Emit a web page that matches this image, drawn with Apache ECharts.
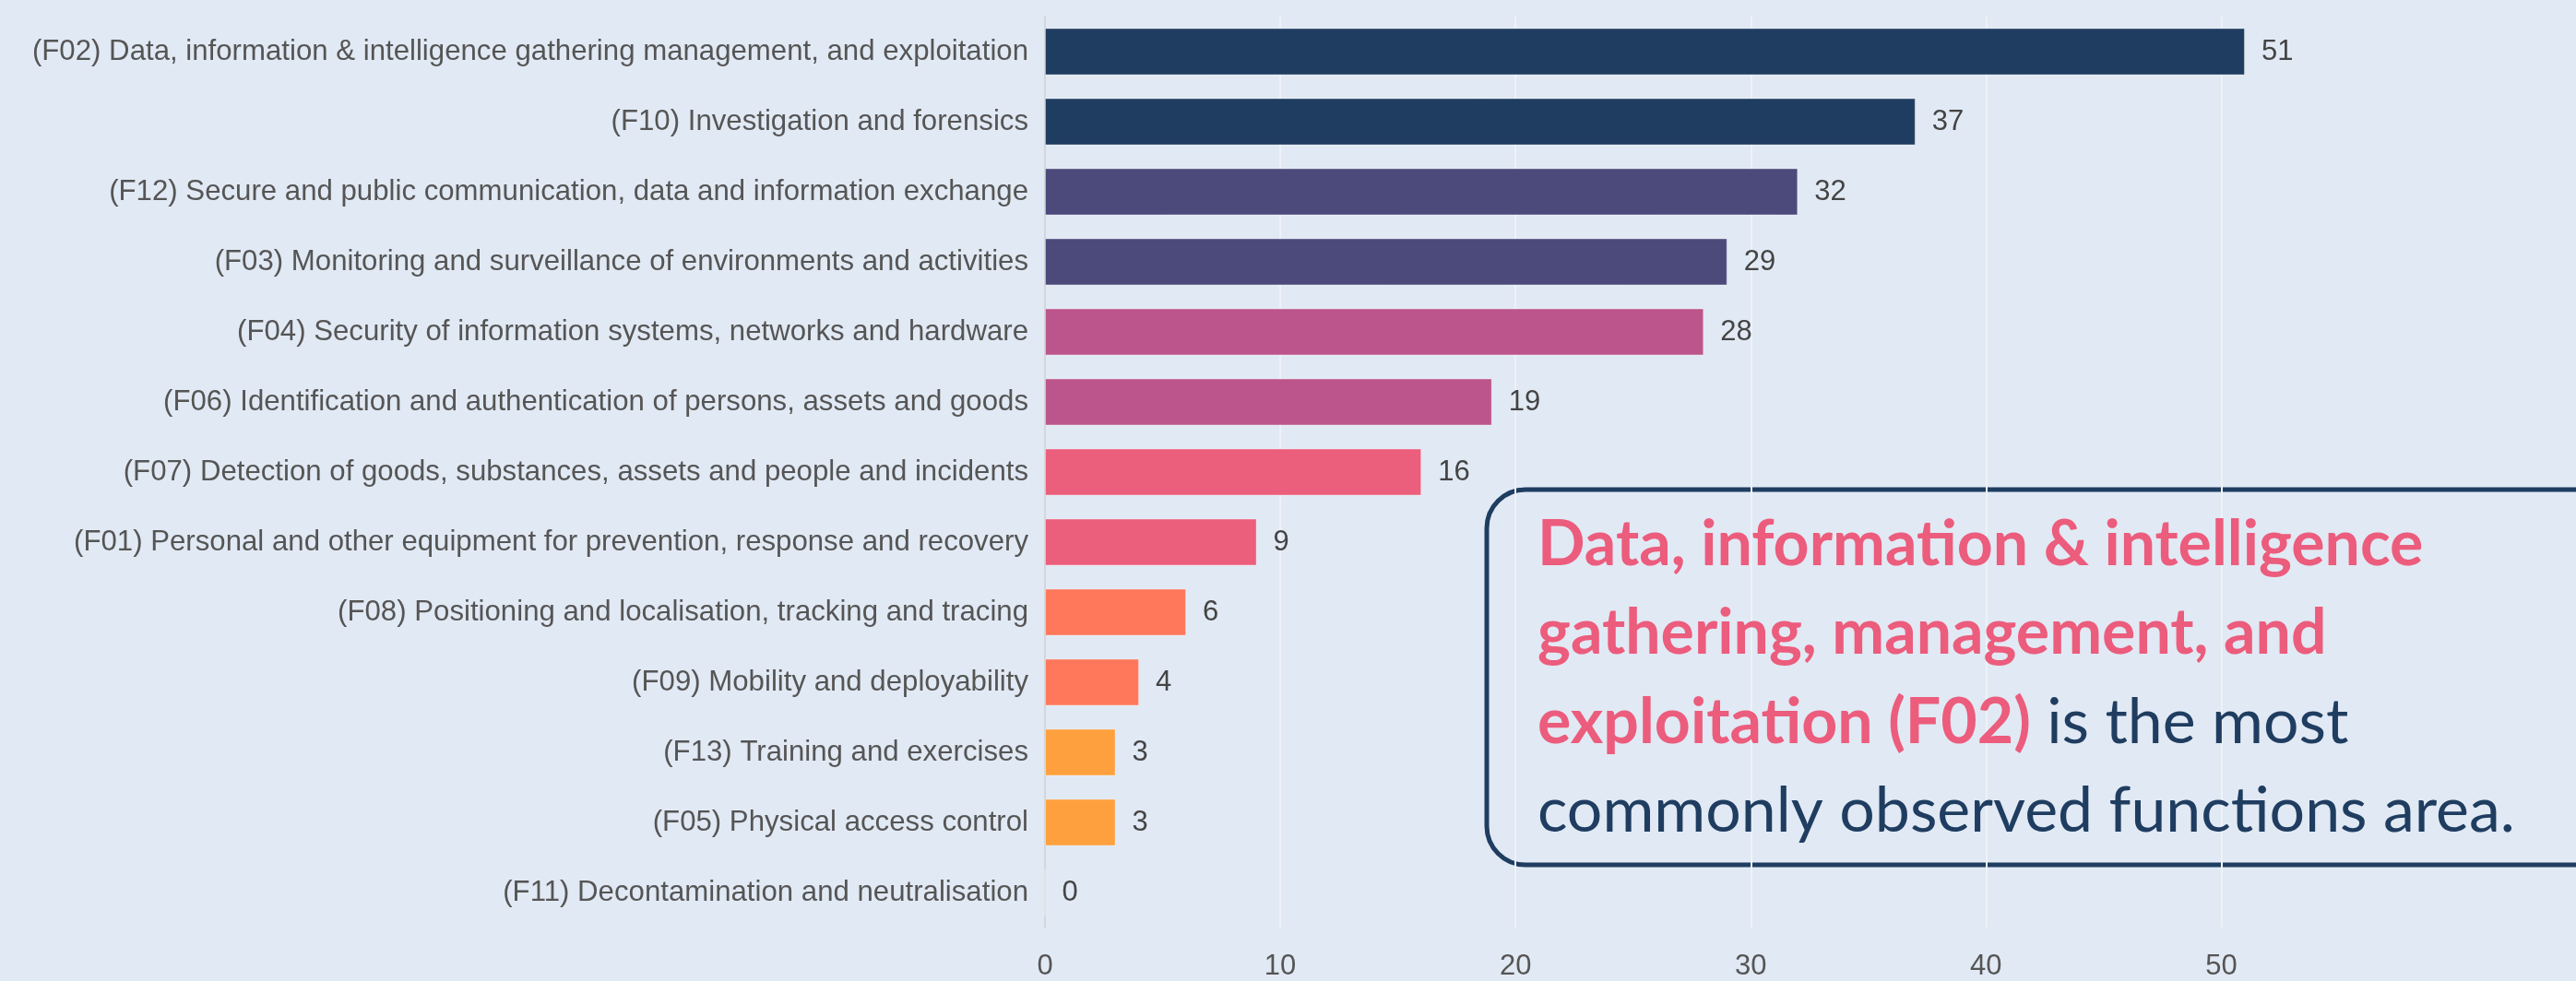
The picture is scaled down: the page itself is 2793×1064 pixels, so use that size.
<!DOCTYPE html>
<html>
<head>
<meta charset="utf-8">
<script src="https://cdn.jsdelivr.net/npm/echarts@6/dist/echarts.min.js"></script>
<style>
html, body { margin: 0; padding: 0; background: #e1e9f4; }
#main { width: 2793px; height: 1064px; }
</style>
</head>
<body>
<div id="main"></div>
<script>
var categories = [
	'(F02) Data, information & intelligence gathering management, and exploitation',
	'(F10) Investigation and forensics',
	'(F12) Secure and public communication, data and information exchange',
	'(F03) Monitoring and surveillance of environments and activities',
	'(F04) Security of information systems, networks and hardware',
	'(F06) Identification and authentication of persons, assets and goods',
	'(F07) Detection of goods, substances, assets and people and incidents',
	'(F01) Personal and other equipment for prevention, response and recovery',
	'(F08) Positioning and localisation, tracking and tracing',
	'(F09) Mobility and deployability',
	'(F13) Training and exercises',
	'(F05) Physical access control',
	'(F11) Decontamination and neutralisation'
];
var counts = [51, 37, 32, 29, 28, 19, 16, 9, 6, 4, 3, 3, 0];
var barColors = ['#1f3d60', '#1f3d60', '#4c4a7b', '#4c4a7b', '#bc558b', '#bc558b',
	'#eb5e7c', '#eb5e7c', '#ff785c', '#ff785c', '#ffa03e', '#ffa03e', '#ffa03e'];
var xTicks = [0, 10, 20, 30, 40, 50];

var noteLines = [
	[['b', 'Data, information & intelligence']],
	[['b', 'gathering, management, and']],
	[['b', 'exploitation (F02)'], ['n', ' is the most']],
	[['n', 'commonly observed functions area.']]
];

var myChart = echarts.init(document.getElementById('main'));

var barData = [];
for (var i = 0; i < counts.length; i++) {
	barData.push({
		value: counts[i],
		itemStyle: { color: barColors[i] }
	});
}

var noteFont = 'Lato, "Open Sans", sans-serif';
var graphics = [{
	type: 'rect',
	z: -1,
	shape: { x: 1612, y: 531, width: 1400, height: 407, r: [42, 0, 0, 42] },
	style: { fill: 'rgba(0,0,0,0)', stroke: '#1f3d60', lineWidth: 5 }
}];
for (var j = 0; j < noteLines.length; j++) {
	var txt = '';
	for (var k = 0; k < noteLines[j].length; k++) {
		txt += '{' + noteLines[j][k][0] + '|' + noteLines[j][k][1] + '}';
	}
	graphics.push({
		type: 'text',
		z: 10,
		left: 1667,
		top: 557 + j * 96.3,
		style: {
			text: txt,
			rich: {
				b: { fontFamily: noteFont, fontSize: 68, fontWeight: 'bold', fill: '#ec5c7c', lineHeight: 80 },
				n: { fontFamily: noteFont, fontSize: 68, fontWeight: 'normal', fill: '#1f3d60', lineHeight: 80 }
			}
		}
	});
}

option = {
	backgroundColor: '#e1e9f4',
	animation: false,
	grid: {
		left: 1133,
		right: 206,
		top: 18,
		bottom: 58
	},
	xAxis: {
		type: 'value',
		min: 0,
		max: 57,
		interval: 10,
		axisLine: { show: false },
		axisTick: { show: false },
		axisLabel: {
			margin: 27,
			fontSize: 31,
			fontFamily: '"Liberation Sans", Arial, sans-serif',
			color: '#555555',
			showMaxLabel: false,
			formatter: function(v) {
				return xTicks.indexOf(v) >= 0 ? String(v) : '';
			}
		},
		splitLine: {
			show: true,
			showMinLine: false,
			showMaxLine: false,
			lineStyle: { color: '#eef2f8', width: 2 }
		}
	},
	yAxis: {
		type: 'category',
		inverse: true,
		data: categories,
		axisLine: { show: true, lineStyle: { color: '#d3d6da', width: 2 } },
		axisTick: { show: false },
		axisLabel: {
			margin: 18,
			fontSize: 31.2,
			fontFamily: '"Liberation Sans", Arial, sans-serif',
			color: '#555555'
		}
	},
	series: [{
		type: 'bar',
		data: barData,
		barCategoryGap: '33%',
		itemStyle: { borderColor: 'rgba(255,255,255,0.35)', borderWidth: 1 },
		label: {
			show: true,
			position: 'right',
			distance: 18,
			fontSize: 31,
			fontFamily: '"Liberation Sans", Arial, sans-serif',
			color: '#444444'
		}
	}],
	graphic: graphics
};
myChart.setOption(option);
</script>
</body>
</html>
